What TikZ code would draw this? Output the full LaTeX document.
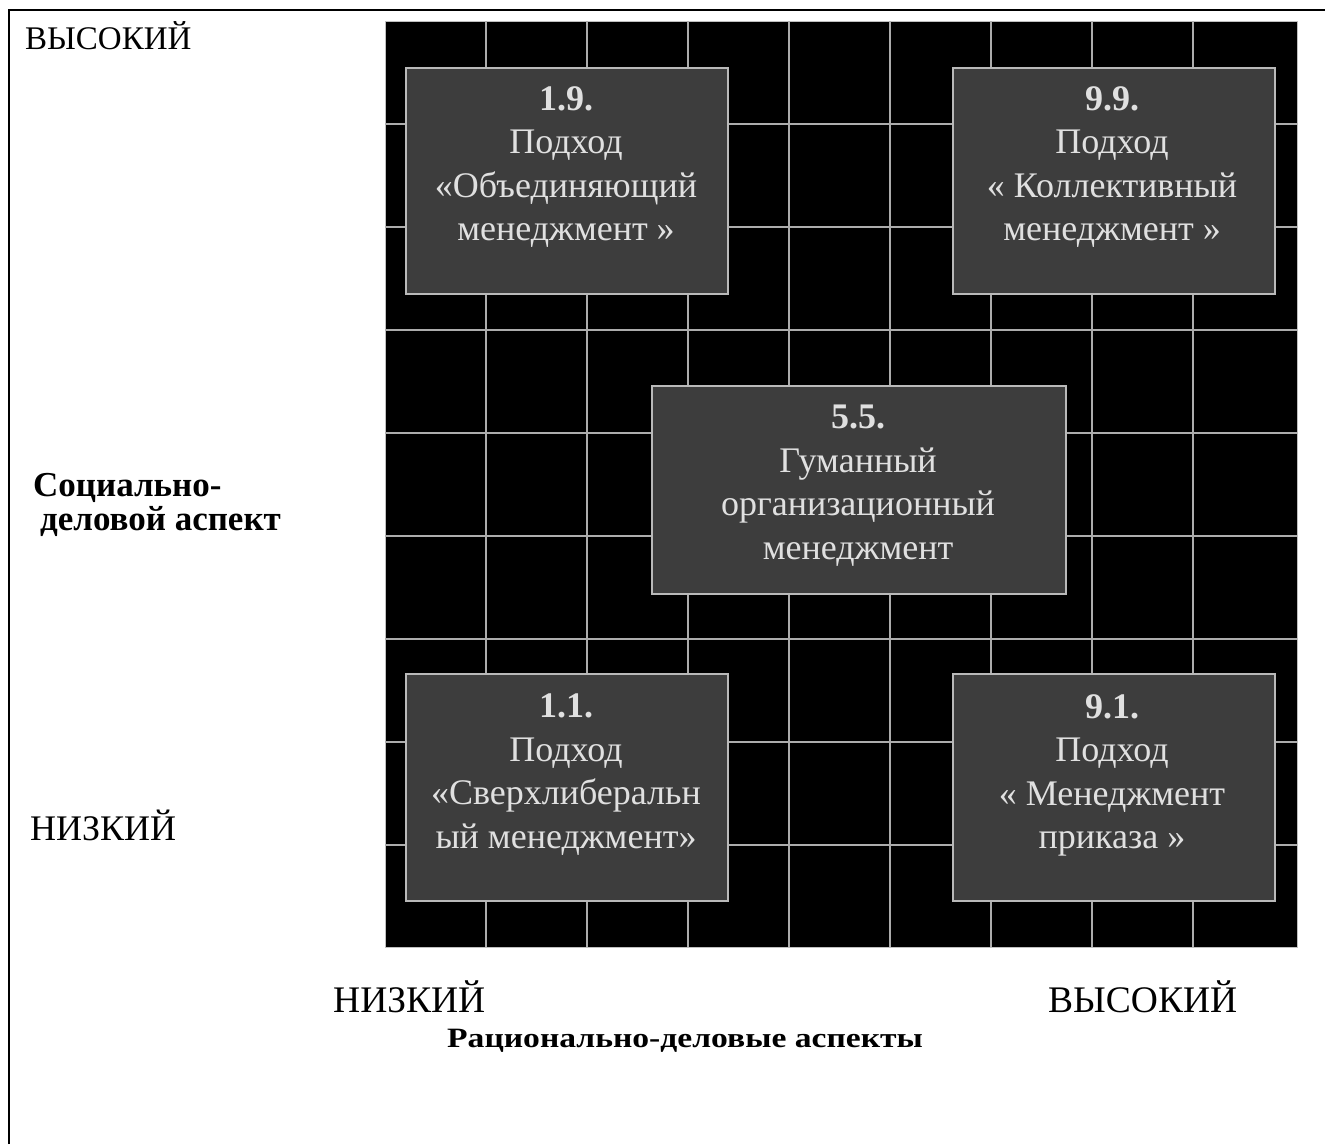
\documentclass[tikz,border=0pt]{standalone}
\usepackage{fontspec}
\setmainfont{Liberation Serif}
\begin{document}
\begin{tikzpicture}[x=1pt,y=-1pt,
  frameline/.style={line width=2.5pt,black},
  gridline/.style={line width=1.1pt,color=gray!65},
  quad/.style={draw=gray!55,line width=1.5pt,fill=black!76,inner sep=0pt},
  quadtext/.style={anchor=north,inner sep=0pt,align=center,text=black!12,
     font=\fontsize{36}{43.5}\selectfont},
  axislabel/.style={anchor=base west,inner sep=0pt,font=\fontsize{33}{40}\selectfont}
]
\useasboundingbox (0,0) rectangle (1325,1144);
\fill[white] (0,0) rectangle (1325,1144);
% outer frame
\draw[frameline] (9,1144) -- (9,10) -- (1325,10);
% black field
\node[fill=black,draw=gray!50,line width=1pt,inner sep=0pt,minimum width=912pt,minimum height=926pt,anchor=north west] (field) at (385,21) {};
% grid
\foreach \gx in {486,587,688,789,890,991,1092,1193}
  \draw[gridline] (\gx,21) -- (\gx,947);
\foreach \gy in {124,227,330,433,536,639,742,845}
  \draw[gridline] (385,\gy) -- (1297,\gy);
% boxes
\node[quad,minimum width=322pt,minimum height=226pt,anchor=north west] (b19) at (405,67) {};
\node[quad,minimum width=322pt,minimum height=226pt,anchor=north west] (b99) at (952,67) {};
\node[quad,minimum width=414pt,minimum height=208pt,anchor=north west] (b55) at (651,385) {};
\node[quad,minimum width=322pt,minimum height=227pt,anchor=north west] (b11) at (405,673) {};
\node[quad,minimum width=322pt,minimum height=227pt,anchor=north west] (b91) at (952,673) {};
% box texts
\node[quadtext] (t19) at (566,86) {\textbf{1.9.}\\Подход\\«Объединяющий\\менеджмент »};
\node[quadtext] (t99) at (1112,86) {\textbf{9.9.}\\Подход\\« Коллективный\\менеджмент »};
\node[quadtext] (t55) at (858,405) {\textbf{5.5.}\\Гуманный\\организационный\\менеджмент};
\node[quadtext] (t11) at (566,694) {\textbf{1.1.}\\Подход\\«Сверхлиберальн\\ый менеджмент»};
\node[quadtext] (t91) at (1112,694) {\textbf{9.1.}\\Подход\\« Менеджмент\\приказа »};
% axis labels
\node[axislabel] (yhigh) at (25,49) {ВЫСОКИЙ};
\node[axislabel,font=\fontsize{36}{40}\selectfont] (ylow) at (30,840) {НИЗКИЙ};
\node[anchor=north west,inner sep=0pt,align=left,font=\fontsize{35}{34}\selectfont\bfseries] (yname) at (33,473) {Социально-\\\hspace*{7pt}деловой аспект};
\node[axislabel,font=\fontsize{37.5}{40}\selectfont] (xlow) at (333,1012) {НИЗКИЙ};
\node[axislabel,font=\fontsize{37.5}{40}\selectfont] (xhigh) at (1048,1012) {ВЫСОКИЙ};
\node[anchor=base west,inner sep=0pt,font=\fontsize{28}{30}\selectfont\bfseries] (xname) at (447,1047) {\scalebox{1.2}[1]{Рационально-деловые аспекты}};
\end{tikzpicture}
\end{document}
